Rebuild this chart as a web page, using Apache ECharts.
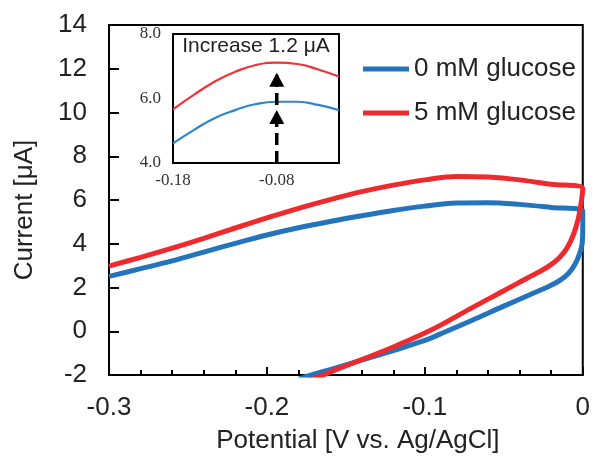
<!DOCTYPE html>
<html>
<head>
<meta charset="utf-8">
<script src="https://cdn.jsdelivr.net/npm/echarts@6/dist/echarts.min.js"></script>
<style>html,body{margin:0;padding:0;background:#fff}#c{width:593px;height:459px}</style>
</head>
<body>
<div id="c"></div>
<script>
// ---- data ----
var seriesNames = ['0 mM glucose', '5 mM glucose'];
// forward (upper) branch, -0.3 V -> 0 V
var potUp = [-0.30, -0.28, -0.26, -0.24, -0.22, -0.20, -0.18, -0.16, -0.14, -0.12, -0.10, -0.08, -0.06, -0.04, -0.02, 0.00];
var cur0Up = [2.51, 2.86, 3.22, 3.62, 4.02, 4.40, 4.73, 5.02, 5.28, 5.52, 5.72, 5.86, 5.88, 5.80, 5.66, 5.50];
var cur5Up = [2.98, 3.38, 3.80, 4.25, 4.72, 5.18, 5.62, 6.02, 6.38, 6.68, 6.92, 7.08, 7.05, 6.92, 6.72, 6.52];
// reverse (lower) branch, 0 V -> negative
var pot0Down = [0.0, -0.0004, -0.002, -0.005, -0.009, -0.014, -0.021, -0.03, -0.05, -0.07, -0.09, -0.10, -0.12, -0.14, -0.16, -0.1717, -0.18];
var cur0Down = [4.8, 4.0, 3.55, 3.05, 2.65, 2.35, 2.07, 1.78, 1.15, 0.5, -0.12, -0.42, -0.88, -1.32, -1.75, -2.0, -2.2];
var pot5Down = [-0.0012, -0.003, -0.006, -0.010, -0.015, -0.021, -0.028, -0.038, -0.05, -0.07, -0.09, -0.10, -0.12, -0.14, -0.155, -0.1644, -0.175];
var cur5Down = [5.8, 5.1, 4.4, 3.8, 3.35, 3.0, 2.7, 2.32, 1.85, 1.08, 0.28, -0.08, -0.72, -1.3, -1.72, -2.0, -2.3];
// inset (zoom of the peak)
var insetPot = [-0.18, -0.16, -0.14, -0.12, -0.10, -0.08, -0.06, -0.04, -0.02];
var inset0 = [4.61, 5.02, 5.39, 5.64, 5.83, 5.90, 5.90, 5.80, 5.64];
var inset5 = [5.66, 6.11, 6.52, 6.83, 7.04, 7.11, 7.07, 6.90, 6.68];
var arrowPot = -0.08;
var arrowLow = [4.0, 5.64];
var arrowHigh = [5.8, 6.8];
var insetTitle = 'Increase 1.2 \u03bcA';
var xTicks = [-0.3, -0.2, -0.1, 0];
var yTicks = [-2, 0, 2, 4, 6, 8, 10, 12, 14];

// ---- build ----
function pairs(xs, ys) { return xs.map(function (x, i) { return [x, ys[i]]; }); }
var loop0 = pairs(potUp, cur0Up).concat(pairs(pot0Down, cur0Down));
var loop5 = pairs(potUp, cur5Up).concat(pairs(pot5Down, cur5Down));

var SANS = 'Liberation Sans, Arial, sans-serif';
var SERIF = 'Liberation Serif, Times New Roman, serif';
var BLUE = '#2473BD', RED = '#EE2A2F';

var chart = echarts.init(document.getElementById('c'), null, {renderer: 'canvas'});
chart.setOption({
  animation: false,
  backgroundColor: '#fff',
  title: {
    text: insetTitle, left: 256, top: 36, textAlign: 'center', padding: 0,
    textStyle: {fontSize: 21, fontWeight: 'normal', color: '#222', fontFamily: SANS}
  },
  legend: {
    data: seriesNames, orient: 'vertical', left: 358, top: 49,
    icon: 'rect', itemWidth: 46, itemHeight: 5, itemGap: 14,
    textStyle: {fontSize: 26, color: '#222', fontFamily: SANS, lineHeight: 30}
  },
  grid: [
    {left: 109, top: 25, width: 474, height: 355, show: true, borderColor: '#000', borderWidth: 2, backgroundColor: 'transparent'},
    {left: 173, top: 34, width: 166, height: 129, show: true, borderColor: '#000', borderWidth: 2, backgroundColor: '#fff', z: 5}
  ],
  xAxis: [
    {
      type: 'value', gridIndex: 0, min: xTicks[0], max: xTicks[xTicks.length - 1], interval: 0.1,
      name: 'Potential [V vs. Ag/AgCl]', nameLocation: 'middle', nameGap: 53,
      nameTextStyle: {fontSize: 26, color: '#222', fontFamily: SANS, padding: [0, 0, 0, 24]},
      axisLine: {show: true, onZero: false, lineStyle: {color: '#000', width: 2}},
      axisTick: {show: true, inside: true, length: 8, lineStyle: {color: '#000', width: 2}},
      minorTick: {show: true, splitNumber: 5, length: 5, lineStyle: {color: '#000', width: 2}},
      splitLine: {show: false},
      axisLabel: {fontSize: 26, color: '#222', fontFamily: SANS, margin: 20}
    },
    {
      type: 'value', gridIndex: 1, min: insetPot[0], max: insetPot[insetPot.length - 1], interval: 0.02,
      axisLine: {show: true, onZero: false, lineStyle: {color: '#000', width: 2}},
      axisTick: {show: true, inside: true, length: 4, lineStyle: {color: '#000', width: 1.5}},
      splitLine: {show: false},
      axisLabel: {
        fontSize: 17, color: '#333', fontFamily: SERIF, margin: 9,
        formatter: function (v) {
          return (Math.abs(v + 0.18) < 1e-6 || Math.abs(v + 0.08) < 1e-6) ? v.toFixed(2) : '';
        }
      }
    }
  ],
  yAxis: [
    {
      type: 'value', gridIndex: 0, min: yTicks[0], max: yTicks[yTicks.length - 1], interval: 2,
      name: 'Current [\u03bcA]', nameLocation: 'middle', nameGap: 71,
      nameTextStyle: {fontSize: 26, color: '#222', fontFamily: SANS, padding: [0, 20, 0, 0]},
      axisLine: {show: true, onZero: false, lineStyle: {color: '#000', width: 2}},
      axisTick: {show: true, inside: true, length: 10, lineStyle: {color: '#000', width: 2}},
      splitLine: {show: false},
      axisLabel: {fontSize: 26, color: '#222', fontFamily: SANS, margin: 22}
    },
    {
      type: 'value', gridIndex: 1, min: 4, max: 8, interval: 1,
      axisLine: {show: true, onZero: false, lineStyle: {color: '#000', width: 2}},
      axisTick: {show: true, inside: true, length: 4, lineStyle: {color: '#000', width: 1.5}},
      splitLine: {show: false},
      axisLabel: {
        fontSize: 17, color: '#333', fontFamily: SERIF, margin: 12,
        formatter: function (v) { return (Math.round(v) % 2 === 0) ? v.toFixed(1) : ''; }
      }
    }
  ],
  series: [
    {name: seriesNames[0], type: 'line', xAxisIndex: 0, yAxisIndex: 0, data: loop0, smooth: 0.35,
     showSymbol: false, symbol: 'none', lineStyle: {color: BLUE, width: 5}, itemStyle: {color: BLUE}},
    {name: seriesNames[1], type: 'line', xAxisIndex: 0, yAxisIndex: 0, data: loop5, smooth: 0.35,
     showSymbol: false, symbol: 'none', lineStyle: {color: RED, width: 5}, itemStyle: {color: RED}},
    {name: 'inset0', type: 'line', xAxisIndex: 1, yAxisIndex: 1, data: pairs(insetPot, inset0), smooth: true,
     symbol: 'none', z: 6, lineStyle: {color: '#2E86C8', width: 2.2}},
    {name: 'inset5', type: 'line', xAxisIndex: 1, yAxisIndex: 1, data: pairs(insetPot, inset5), smooth: true,
     symbol: 'none', z: 6, lineStyle: {color: '#F0323A', width: 2.2}},
    {name: 'arrowLow', type: 'line', xAxisIndex: 1, yAxisIndex: 1, z: 7,
     data: [{value: [arrowPot, arrowLow[0]], symbol: 'none'},
            {value: [arrowPot, arrowLow[1]], symbol: 'triangle', symbolSize: [15, 14], symbolOffset: [0, 7]}],
     showAllSymbol: true, lineStyle: {color: '#000', width: 3.5, type: [12, 6]}, itemStyle: {color: '#000'}},
    {name: 'arrowHigh', type: 'line', xAxisIndex: 1, yAxisIndex: 1, z: 7,
     data: [{value: [arrowPot, arrowHigh[0]], symbol: 'none'},
            {value: [arrowPot, arrowHigh[1]], symbol: 'triangle', symbolSize: [15, 14], symbolOffset: [0, 7]}],
     showAllSymbol: true, lineStyle: {color: '#000', width: 3.5, type: [12, 6]}, itemStyle: {color: '#000'}}
  ]
});
</script>
</body>
</html>
